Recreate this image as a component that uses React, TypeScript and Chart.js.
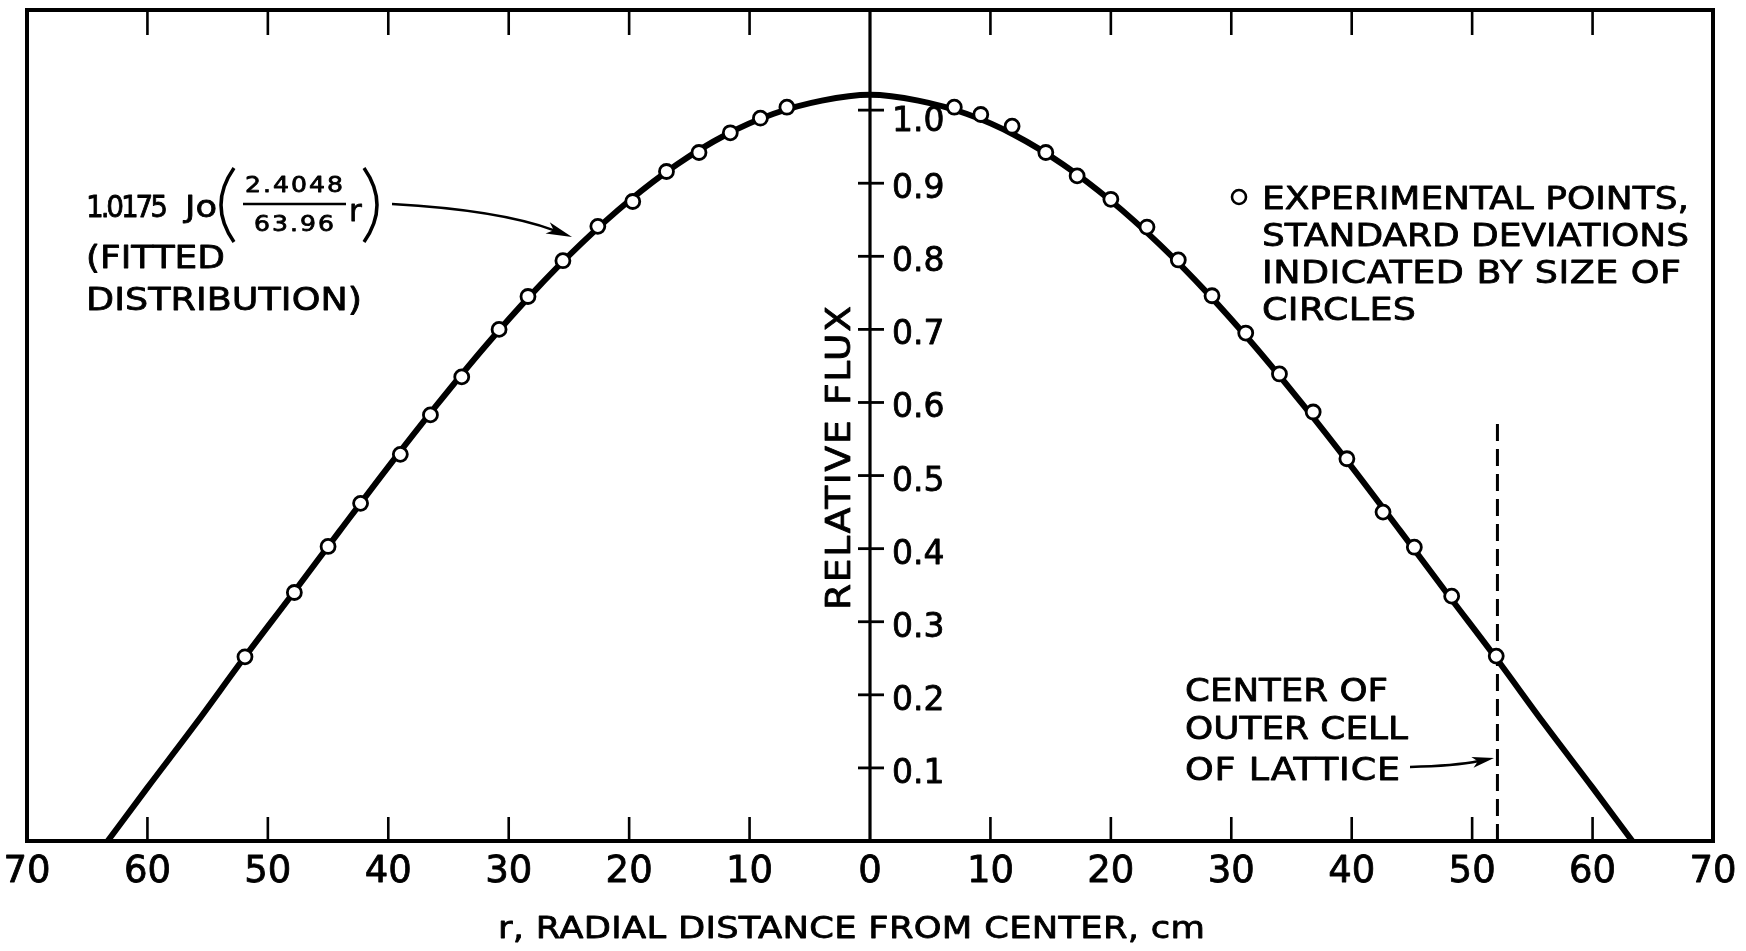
import React, { useEffect, useRef } from "react";
import { Chart, registerables } from "chart.js";

Chart.register(...registerables);

// ---------- data ----------
const xTickValues = [-70, -60, -50, -40, -30, -20, -10, 0, 10, 20, 30, 40, 50, 60, 70];
const yTickValues = [0.1, 0.2, 0.3, 0.4, 0.5, 0.6, 0.7, 0.8, 0.9, 1.0];
const yTickLabels = ["0.1", "0.2", "0.3", "0.4", "0.5", "0.6", "0.7", "0.8", "0.9", "1.0"];

// fitted distribution
const curveR = [
  -63.3, -60, -56, -52, -48, -44, -40, -36, -32, -28, -24, -20, -16, -12, -8, -4, 0,
  4, 8, 12, 16, 20, 24, 28, 32, 36, 40, 44, 48, 52, 56, 60, 63.3,
];
const curveFlux = [
  0, 0.073, 0.16, 0.25, 0.337, 0.425, 0.512, 0.596, 0.676, 0.75, 0.817, 0.876, 0.926, 0.966, 0.995, 1.013, 1.021,
  1.013, 0.995, 0.966, 0.926, 0.876, 0.817, 0.75, 0.676, 0.596, 0.512, 0.425, 0.337, 0.25, 0.16, 0.073, 0,
];

// experimental points
const pointR = [
  -51.9, -47.8, -45.0, -42.3, -39.0, -36.5, -33.9, -30.8, -28.4, -25.5, -22.6, -19.7, -16.9, -14.2, -11.6, -9.1, -6.9,
  7.0, 9.2, 11.8, 14.6, 17.2, 20.0, 23.0, 25.6, 28.4, 31.2, 34.0, 36.8, 39.6, 42.6, 45.2, 48.3, 52.0,
];
const pointFlux = [
  0.252, 0.34, 0.403, 0.462, 0.529, 0.583, 0.635, 0.7, 0.745, 0.794, 0.841, 0.875, 0.916, 0.942, 0.969, 0.989, 1.004,
  1.004, 0.994, 0.978, 0.942, 0.91, 0.878, 0.84, 0.795, 0.746, 0.695, 0.639, 0.587, 0.523, 0.45, 0.402, 0.335, 0.253,
];

// outer lattice cell marker
const latticeR = [52.1, 52.1];
const latticeFlux = [0, 0.572];

const X_MIN = -70;
const X_MAX = 70;
const Y_MIN = 0;
const Y_MAX = 1.137;

const FONT = '"DejaVu Sans", "Liberation Sans", sans-serif';
const STROKE = 0.8;

function drawFit(ctx: CanvasRenderingContext2D, text: string, x: number, cy: number, width: number, size: number) {
  ctx.save();
  ctx.font = `${size}px ${FONT}`;
  (ctx as any).letterSpacing = "0px";
  const w = ctx.measureText(text).width;
  const n = text.length;
  let s = width / w;
  s = Math.max(0.9, Math.min(1.14, s));
  const ls = n > 1 ? (width - w * s) / (n - 1) : 0;
  ctx.translate(x, cy + (size * 0.729) / 2);
  ctx.scale(s, 1);
  (ctx as any).letterSpacing = `${ls / s}px`;
  ctx.textAlign = "left";
  ctx.textBaseline = "alphabetic";
  ctx.lineWidth = STROKE;
  ctx.lineJoin = "round";
  ctx.fillText(text, 0, 0);
  ctx.strokeText(text, 0, 0);
  ctx.restore();
}

function drawBoldText(ctx: CanvasRenderingContext2D, text: string, x: number, y: number) {
  ctx.save();
  ctx.lineWidth = STROKE;
  ctx.lineJoin = "round";
  ctx.fillText(text, x, y);
  ctx.strokeText(text, x, y);
  ctx.restore();
}

function drawArrow(
  ctx: CanvasRenderingContext2D,
  p0: [number, number],
  c: [number, number],
  p2: [number, number],
  headLen: number,
  headW: number
) {
  const ang = Math.atan2(p2[1] - c[1], p2[0] - c[0]);
  const bx = p2[0] - headLen * Math.cos(ang);
  const by = p2[1] - headLen * Math.sin(ang);
  ctx.beginPath();
  ctx.moveTo(p0[0], p0[1]);
  ctx.quadraticCurveTo(c[0], c[1], bx + headLen * 0.3 * Math.cos(ang), by + headLen * 0.3 * Math.sin(ang));
  ctx.stroke();
  ctx.beginPath();
  ctx.moveTo(p2[0], p2[1]);
  ctx.lineTo(bx - headW * Math.sin(ang), by + headW * Math.cos(ang));
  ctx.lineTo(bx + headLen * 0.25 * Math.cos(ang), by + headLen * 0.25 * Math.sin(ang));
  ctx.lineTo(bx + headW * Math.sin(ang), by - headW * Math.cos(ang));
  ctx.closePath();
  ctx.fill();
}

const framePlugin = {
  id: "framePlugin",
  beforeDatasetsDraw(chart: any) {
    const { ctx, chartArea: a, scales } = chart;
    const x = scales.x;
    const y = scales.y;
    ctx.save();
    ctx.strokeStyle = "#000";
    ctx.lineCap = "butt";
    // frame
    ctx.lineWidth = 4;
    ctx.strokeRect(a.left, a.top, a.right - a.left, a.bottom - a.top);
    // inward ticks top & bottom
    ctx.lineWidth = 2.6;
    for (const v of xTickValues) {
      if (v === 0 || Math.abs(v) === 70) continue;
      const px = x.getPixelForValue(v);
      ctx.beginPath();
      ctx.moveTo(px, a.top);
      ctx.lineTo(px, a.top + 25);
      ctx.moveTo(px, a.bottom);
      ctx.lineTo(px, a.bottom - 24);
      ctx.stroke();
    }
    // central vertical axis
    const x0 = x.getPixelForValue(0);
    ctx.lineWidth = 3.2;
    ctx.beginPath();
    ctx.moveTo(x0, a.top);
    ctx.lineTo(x0, a.bottom);
    ctx.stroke();
    ctx.lineWidth = 2.8;
    for (const v of yTickValues) {
      const py = y.getPixelForValue(v);
      ctx.beginPath();
      ctx.moveTo(x0 - 12, py);
      ctx.lineTo(x0 + 14, py);
      ctx.stroke();
    }
    ctx.restore();
  },
  afterDraw(chart: any) {
    const { ctx, scales } = chart;
    const x = scales.x;
    const y = scales.y;
    ctx.save();
    ctx.fillStyle = "#000";
    ctx.strokeStyle = "#000";

    // x tick labels
    ctx.font = `37px ${FONT}`;
    ctx.textAlign = "center";
    ctx.textBaseline = "alphabetic";
    for (const v of xTickValues) {
      const px = x.getPixelForValue(v);
      drawBoldText(ctx, String(Math.abs(v)), px, 868 + 13.5);
    }

    // y tick labels
    const x0 = x.getPixelForValue(0);
    ctx.font = `33px ${FONT}`;
    ctx.textAlign = "left";
    yTickValues.forEach((v, i) => {
      const py = y.getPixelForValue(v);
      const off = v >= 1 ? 9 : 3;
      drawBoldText(ctx, yTickLabels[i], x0 + 22, py + off + 12);
    });

    // axis titles
    drawFit(ctx, "r, RADIAL DISTANCE FROM CENTER, cm", 498, 927, 707, 31);
    ctx.save();
    ctx.translate(838, 610);
    ctx.rotate(-Math.PI / 2);
    drawFit(ctx, "RELATIVE FLUX", 0, 0, 304, 33);
    ctx.restore();

    // fitted distribution label
    drawFit(ctx, "1.0175", 86, 206, 82, 31);
    drawFit(ctx, "Jo", 185, 206, 32, 31);
    drawFit(ctx, "2.4048", 245, 184, 98, 22);
    drawFit(ctx, "63.96", 254, 223, 80, 22);
    ctx.font = `31px ${FONT}`;
    ctx.textAlign = "left";
    drawBoldText(ctx, "r", 349, 221);
    ctx.lineWidth = 2.5;
    ctx.beginPath();
    ctx.moveTo(243, 204);
    ctx.lineTo(346, 204);
    ctx.stroke();
    ctx.lineWidth = 3.5;
    ctx.beginPath();
    ctx.moveTo(234, 168);
    ctx.quadraticCurveTo(208, 205, 234, 242);
    ctx.stroke();
    ctx.beginPath();
    ctx.moveTo(364, 168);
    ctx.quadraticCurveTo(390, 205, 364, 242);
    ctx.stroke();
    drawFit(ctx, "(FITTED", 86, 256, 139, 32);
    drawFit(ctx, "DISTRIBUTION)", 86, 298, 276, 32);
    ctx.lineWidth = 2.5;
    drawArrow(ctx, [392, 204], [500, 210], [572, 237], 26, 6);

    // legend
    ctx.lineWidth = 2.6;
    ctx.beginPath();
    ctx.arc(1239, 197, 7, 0, Math.PI * 2);
    ctx.stroke();
    drawFit(ctx, "EXPERIMENTAL POINTS,", 1262, 197, 427, 32);
    drawFit(ctx, "STANDARD DEVIATIONS", 1262, 234, 427, 32);
    drawFit(ctx, "INDICATED BY SIZE OF", 1262, 271, 419, 32);
    drawFit(ctx, "CIRCLES", 1262, 308, 154, 32);

    // lattice note
    drawFit(ctx, "CENTER OF", 1185, 689, 203, 32);
    drawFit(ctx, "OUTER CELL", 1185, 727, 223, 32);
    drawFit(ctx, "OF LATTICE", 1185, 768, 215, 32);
    ctx.lineWidth = 2.5;
    drawArrow(ctx, [1410, 767], [1455, 766], [1494, 758], 22, 5.5);

    ctx.restore();
  },
};

export default function App() {
  const canvasRef = useRef<HTMLCanvasElement | null>(null);

  useEffect(() => {
    if (!canvasRef.current) return;
    const chart = new Chart(canvasRef.current, {
      type: "scatter",
      data: {
        datasets: [
          {
            label: "Experimental points",
            data: pointR.map((r, i) => ({ x: r, y: pointFlux[i] })),
            showLine: false,
            pointRadius: 7,
            pointBorderWidth: 2.8,
            pointBackgroundColor: "#ffffff",
            pointBorderColor: "#000000",
          },
          {
            label: "Fitted distribution",
            data: curveR.map((r, i) => ({ x: r, y: curveFlux[i] })),
            showLine: true,
            borderColor: "#000000",
            borderWidth: 6,
            pointRadius: 0,
            cubicInterpolationMode: "monotone",
          },
          {
            label: "Center of outer cell",
            data: latticeR.map((r, i) => ({ x: r, y: latticeFlux[i] })),
            showLine: true,
            borderColor: "#000000",
            borderWidth: 3,
            borderDash: [17, 8],
            pointRadius: 0,
          },
        ],
      },
      options: {
        responsive: false,
        animation: false,
        devicePixelRatio: 1,
        layout: { padding: { left: 27, right: 33, top: 10, bottom: 110 } },
        plugins: { legend: { display: false }, tooltip: { enabled: false } },
        scales: {
          x: { type: "linear", min: X_MIN, max: X_MAX, display: false },
          y: { type: "linear", min: Y_MIN, max: Y_MAX, display: false },
        },
      },
      plugins: [framePlugin],
    } as any);
    return () => chart.destroy();
  }, []);

  return (
    <div style={{ position: "fixed", left: 0, top: 0, width: 1746, height: 951, background: "#fff" }}>
      <canvas ref={canvasRef} width={1746} height={951} style={{ display: "block" }} />
    </div>
  );
}
